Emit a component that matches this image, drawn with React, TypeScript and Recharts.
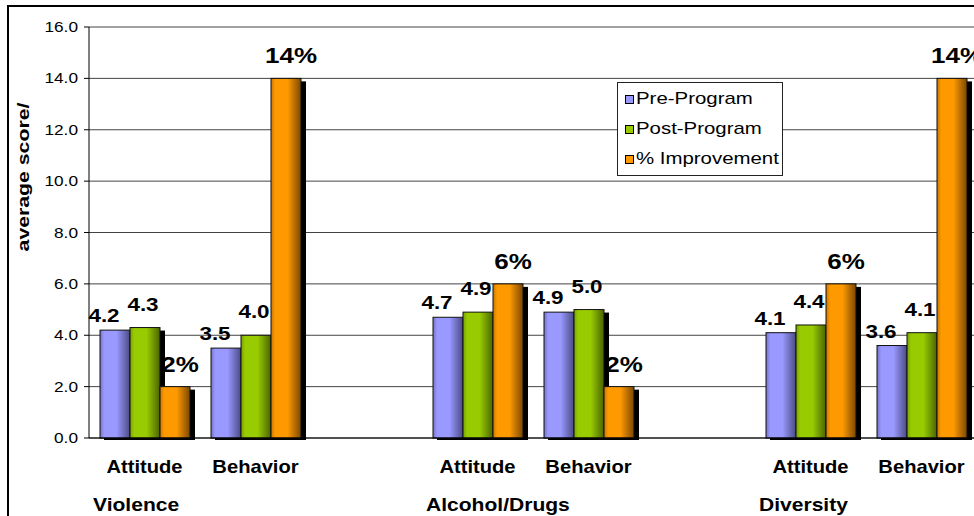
import React from "react";
import { Bar, BarChart, CartesianGrid, LabelList, Legend, XAxis, YAxis } from "recharts";

const categories = ["Attitude", "Behavior", "", "Attitude", "Behavior", "", "Attitude", "Behavior"];
const groups = ["Violence", "", "", "Alcohol/Drugs", "", "", "Diversity", ""];
const preProgram = [4.2, 3.5, null, 4.7, 4.9, null, 4.1, 3.6];
const postProgram = [4.3, 4.0, null, 4.9, 5.0, null, 4.4, 4.1];
const improvement = [2, 14, null, 6, 2, null, 6, 14];
const yTicks = [0, 2, 4, 6, 8, 10, 12, 14, 16];

const FONT = "'Liberation Sans', Arial, sans-serif";
const HALF_BAND = 55.5;

const series = [
  { key: "pre", name: "Pre-Program", light: "#9999ff", edge: "#7373c4", dark: "#4a4a85", dx: -11, dy: 8, size: 19, fmt: (v: number) => v.toFixed(1) },
  { key: "post", name: "Post-Program", light: "#99cc00", edge: "#78a000", dark: "#4a6400", dx: -2, dy: 17, size: 19, fmt: (v: number) => v.toFixed(1) },
  { key: "imp", name: "% Improvement", light: "#ff9900", edge: "#c87800", dark: "#7a4800", dx: 5, dy: 15, size: 22, fmt: (v: number) => `${v}%` },
];

const data = categories.map((c, i) => ({
  category: c,
  group: groups[i],
  pre: preProgram[i],
  post: postProgram[i],
  imp: improvement[i],
}));

// stretched text, the original chart was widened horizontally
function SText({ x, y, anchor = "middle", size, weight = "normal", sx = 1.2, rotate = 0, children }: any) {
  return (
    <text
      transform={`translate(${x},${y}) rotate(${rotate}) scale(${sx},1)`}
      textAnchor={anchor}
      fontSize={size}
      fontWeight={weight}
      fontFamily={FONT}
      fill="#000"
    >
      {children}
    </text>
  );
}

function ShadedBar(props: any) {
  const { x, y, width, height, gradId } = props;
  if (!height || height <= 0) return null;
  return (
    <g>
      <rect x={x + 4} y={y + 3} width={width + 1} height={height - 1} fill="#000" />
      <rect x={x} y={y} width={width} height={height} fill={`url(#${gradId})`} stroke="#111" strokeWidth={1} />
    </g>
  );
}

function CategoryTick({ x, y, payload }: any) {
  const i = payload.index;
  const group = groups[i];
  return (
    <g>
      <SText x={x} y={y + 27} size={18} weight="bold" sx={1.12}>
        {payload.value}
      </SText>
      {group && (
        <SText x={x - HALF_BAND + 4} y={y + 65} anchor="start" size={18} weight="bold" sx={1.17}>
          {group}
        </SText>
      )}
    </g>
  );
}

function ValueTick({ x, y, payload }: any) {
  return (
    <SText x={x} y={y + 5} anchor="end" size={15} sx={1.15}>
      {Number(payload.value).toFixed(1)}
    </SText>
  );
}

function makeLabel(s: (typeof series)[number]) {
  return (p: any) => {
    if (p.value == null) return null;
    const vb = p.viewBox ?? p;
    const x = vb.x ?? p.x;
    const y = vb.y ?? p.y;
    const w = vb.width ?? p.width;
    return (
      <SText key={`${s.key}-${p.index}`} x={x + w / 2 + s.dx} y={y - s.dy} size={s.size} weight="bold" sx={1.18}>
        {s.fmt(p.value)}
      </SText>
    );
  };
}

function LegendBox() {
  return (
    <div
      style={{
        width: 166,
        height: 94,
        boxSizing: "border-box",
        border: "1px solid #222",
        background: "#fff",
        paddingTop: 1,
        fontFamily: FONT,
      }}
    >
      {series.map((s) => (
        <div key={s.key} style={{ display: "flex", alignItems: "center", height: 30 }}>
          <span
            style={{
              display: "inline-block",
              width: 7,
              height: 7,
              marginLeft: 7,
              border: "1px solid #000",
              background: s.light,
            }}
          />
          <span
            style={{
              marginLeft: 2,
              fontSize: 17,
              whiteSpace: "nowrap",
              transform: "scaleX(1.2)",
              transformOrigin: "left center",
              color: "#000",
            }}
          >
            {s.name}
          </span>
        </div>
      ))}
    </div>
  );
}

export default function App() {
  return (
    <div style={{ position: "relative", width: 974, height: 516, overflow: "hidden", background: "#fff" }}>
      <style>{"body{margin:0;overflow:hidden}"}</style>
      <div
        style={{
          position: "absolute",
          left: 7,
          top: 5,
          width: 1100,
          height: 700,
          border: "2px solid #000",
        }}
      />
      <div style={{ position: "absolute", left: 0, top: 0 }}>
        <BarChart
          width={990}
          height={516}
          data={data}
          margin={{ top: 27, right: 13, left: 39, bottom: 0 }}
          barGap={0}
          barSize={30}
        >
          <defs>
            {series.map((s) => (
              <linearGradient key={s.key} id={`grad-${s.key}`} x1="0" y1="0" x2="1" y2="0">
                <stop offset="0%" stopColor={s.edge} />
                <stop offset="14%" stopColor={s.light} />
                <stop offset="55%" stopColor={s.light} />
                <stop offset="100%" stopColor={s.dark} />
              </linearGradient>
            ))}
          </defs>
          <CartesianGrid vertical={false} stroke="#444" />
          <XAxis
            dataKey="category"
            height={78}
            tickLine={false}
            axisLine={{ stroke: "#000" }}
            tick={<CategoryTick />}
            interval={0}
          />
          <YAxis
            width={50}
            domain={[0, 16]}
            ticks={yTicks}
            interval={0}
            tickSize={5}
            tickMargin={6}
            tickLine={{ stroke: "#000" }}
            axisLine={{ stroke: "#000" }}
            tick={<ValueTick />}
            label={{
              content: () => (
                <SText x={29} y={177} rotate={-90} size={17} weight="bold" sx={1.25}>
                  average score/
                </SText>
              ),
            }}
          />
          <Legend
            layout="horizontal"
            verticalAlign="middle"
            align="center"
            content={() => <LegendBox />}
            wrapperStyle={{ position: "absolute", left: 617, top: 82, width: 166, height: 94 }}
          />
          {series.map((s) => (
            <Bar
              key={s.key}
              dataKey={s.key}
              name={s.name}
              fill={s.light}
              isAnimationActive={false}
              shape={(p: any) => <ShadedBar {...p} gradId={`grad-${s.key}`} />}
            >
              <LabelList dataKey={s.key} content={makeLabel(s)} />
            </Bar>
          ))}
        </BarChart>
      </div>
    </div>
  );
}
